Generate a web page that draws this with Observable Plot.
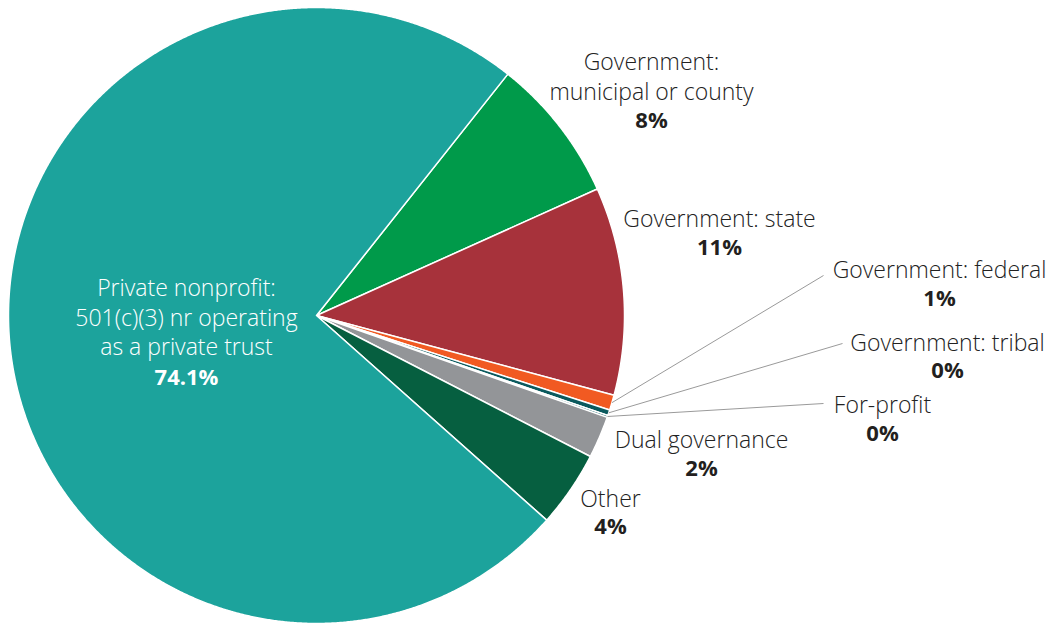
<!DOCTYPE html>
<html><head><meta charset="utf-8">
<script src="https://cdn.jsdelivr.net/npm/d3@7"></script>
<script src="https://cdn.jsdelivr.net/npm/@observablehq/plot@0.6"></script>
<style>body{margin:0;background:#fff}</style>
</head><body><div id="chart"></div>
<script>
// ---- data ----
const categories = [
  "Government:\nmunicipal or county",
  "Government: state",
  "Government: federal",
  "Government: tribal",
  "For-profit",
  "Dual governance",
  "Other",
  "Private nonprofit:\n501(c)(3) nr operating\nas a private trust"
];
const values = [7.6, 10.9, 0.8, 0.3, 0.1, 2.2, 4.0, 74.1];
const valueLabels = ["8%", "11%", "1%", "0%", "0%", "2%", "4%", "74.1%"];
const colors = ["#009a4a", "#a7323b", "#f15a22", "#0b5a5e", "#0b5a5e", "#939598", "#065f40", "#1ca39c"];

// ---- layout (pixels) ----
const cx = 316, cy = 315, R = 308;
const startDeg = 38.4;
const labelPos = [
  {x: 651, y: 75,  py: 120},
  {x: 719, y: 217, py: 247},
  {x: 939, y: 268, py: 298},
  {x: 947, y: 341, py: 370},
  {x: 882, y: 403, py: 433},
  {x: 701, y: 438, py: 468},
  {x: 610, y: 497, py: 526},
  {x: 186, y: 316, py: 377}
];
const leaderEnds = {2: [823, 275], 3: [842, 343], 4: [823, 403]};

const arcs = d3.pie().sort(null).value(d => d)
  .startAngle(startDeg * Math.PI / 180)
  .endAngle(startDeg * Math.PI / 180 + 2 * Math.PI)(values);

const pt = (a, r) => [cx + r * Math.sin(a), cy - r * Math.cos(a)];

const sliceMarks = arcs.map((a, i) => {
  const n = Math.max(2, Math.ceil((a.endAngle - a.startAngle) / (Math.PI / 720)));
  const pts = [pt(0, 0)];
  for (let k = 0; k <= n; k++) pts.push(pt(a.startAngle + (a.endAngle - a.startAngle) * k / n, R));
  return Plot.line(pts, {x: d => d[0], y: d => d[1], fill: colors[i], stroke: "white", strokeWidth: 1.5, curve: "linear-closed"});
});

const leaders = Object.entries(leaderEnds).map(([i, e]) => {
  const a = arcs[+i];
  const s = pt((a.startAngle + a.endAngle) / 2, R);
  return {x1: s[0], y1: s[1], x2: e[0], y2: e[1]};
});

const labels = categories.map((c, i) => ({text: c, x: labelPos[i].x, y: labelPos[i].y, py: labelPos[i].py, pct: valueLabels[i], inside: i === 7}));

const chart = Plot.plot({
  width: 1050, height: 623, margin: 0,
  x: {type: "identity", axis: null},
  y: {type: "identity", axis: null},
  style: {fontFamily: "'Open Sans', sans-serif", background: "white"},
  marks: [
    ...sliceMarks,
    Plot.link(leaders, {x1: "x1", y1: "y1", x2: "x2", y2: "y2", stroke: "#9a9a9a", strokeWidth: 1}),
    Plot.text(labels, {x: "x", y: "y", text: "text", fontSize: 23, fontWeight: 300, lineHeight: 1.28, fill: d => d.inside ? "white" : "#222"}),
    Plot.text(labels, {x: "x", y: "py", text: "pct", fontSize: 22, fontWeight: 700, fill: d => d.inside ? "white" : "#231f20"})
  ]
});
document.getElementById("chart").appendChild(chart);
</script>
</body></html>
